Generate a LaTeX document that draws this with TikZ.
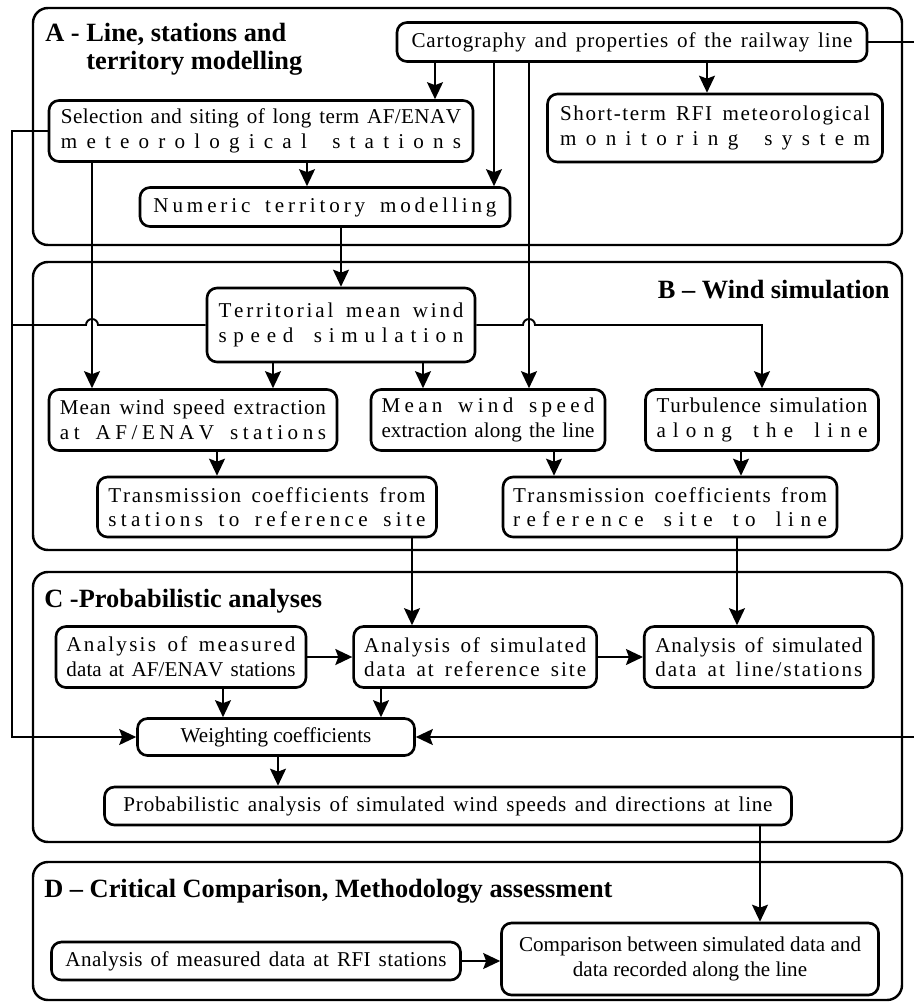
\documentclass[tikz,border=0pt]{standalone}
\usepackage{fontspec}
\setmainfont{Liberation Serif}
\usetikzlibrary{positioning, arrows.meta, calc}

% spread the letters of one line over the whole text width
\ExplSyntaxOn
\NewDocumentCommand\spread{m}{\hbox to \hsize{\str_map_inline:nn{#1}{##1\hfil}\unskip}}
\ExplSyntaxOff

\begin{document}
\begin{tikzpicture}[
    x=0.2mm, y=-0.2mm,
    panel/.style={draw, line width=1.4pt, rounded corners=3mm},
    heading/.style={font=\fontsize{15}{16.5}\selectfont\bfseries, inner sep=0pt, align=left},
    box/.style={
        rectangle,
        draw,
        fill=white,
        line width=1.5pt,
        rounded corners=2mm,
        inner sep=0pt,
        align=center,
        font=\fontsize{12}{14}\selectfont
    },
    flow/.style={-{Stealth[length=3.4mm, width=3.2mm, inset=0.6mm]}, line width=1.1pt},
    link/.style={line width=1.1pt}
]
    \useasboundingbox (0,0) rectangle (913,1003);

    % Sections
    \draw[panel] (33,8) rectangle (902,245);
    \draw[panel] (33,262) rectangle (902,550);
    \draw[panel] (33,572) rectangle (902,842);
    \draw[panel] (33,862) rectangle (902,1000);

    \node[heading, anchor=base west] (headA) at (45,70) {A - Line, stations and\\\phantom{A - }territory modelling};
    \node[heading, anchor=base east] (headB) at (890,298) {B – Wind simulation};
    \node[heading, anchor=base west] (headC) at (44,607) {C -Probabilistic analyses};
    \node[heading, anchor=base west] (headD) at (44,897) {D – Critical Comparison, Methodology assessment};

    % A - Line, stations and territory
    \node[box, minimum width=94mm, minimum height=7.8mm, text width=88.2mm] (cart) at (632,42)
        {\spread{Cartography and properties of the railway line}};
    \node[box, minimum width=67mm, minimum height=13.6mm, text width=62mm] (short) at (715,128)
        {\spread{Short-term RFI meteorological}\\\spread{monitoring system}};
    \node[box, minimum width=84.8mm, minimum height=12.2mm, text width=80mm] (select) at (261,131)
        {\spread{Selection and siting of long term AF/ENAV}\\\spread{meteorological stations}};
    \node[box, minimum width=74mm, minimum height=7.8mm, text width=68.6mm] (numeric) at (325,207)
        {\spread{Numeric territory modelling}};

    % B - Wind simulation
    \node[box, minimum width=53.6mm, minimum height=14.8mm, text width=49mm] (territ) at (341,325)
        {\spread{Territorial mean wind}\\\spread{speed simulation}};
    \node[box, minimum width=57.6mm, minimum height=12.2mm, text width=53.2mm] (extrAF) at (193,420)
        {\spread{Mean wind speed extraction}\\\spread{at AF/ENAV stations}};
    \node[box, minimum width=46.8mm, minimum height=12.2mm, text width=42.6mm] (extrLine) at (488,420)
        {\spread{Mean wind speed}\\\spread{extraction along the line}};
    \node[box, minimum width=46.6mm, minimum height=12.2mm, text width=42.2mm] (turb) at (762,420)
        {\spread{Turbulence simulation}\\\spread{along the line}};
    \node[box, minimum width=67.8mm, minimum height=12mm, text width=63.4mm] (trans1) at (267,507)
        {\spread{Transmission coefficients from}\\\spread{stations to reference site}};
    \node[box, minimum width=66.8mm, minimum height=12mm, text width=62.8mm] (trans2) at (670,507)
        {\spread{Transmission coefficients from}\\\spread{reference site to line}};

    % C - Probabilistic analyses
    \node[box, minimum width=50mm, minimum height=12.2mm, text width=45.8mm] (measAF) at (181,657)
        {\spread{Analysis of measured}\\\spread{data at AF/ENAV stations}};
    \node[box, minimum width=48.6mm, minimum height=12.2mm, text width=44.4mm, right=9mm of measAF] (simRef)
        {\spread{Analysis of simulated}\\\spread{data at reference site}};
    \node[box, minimum width=45.8mm, minimum height=12.2mm, text width=41.4mm, right=9mm of simRef] (simLine)
        {\spread{Analysis of simulated}\\\spread{data at line/stations}};
    \node[box, minimum width=55.4mm, minimum height=7.4mm] (weight) at (276,737) {Weighting coefficients};
    \node[box, minimum width=137.4mm, minimum height=7.6mm, text width=129.8mm] (prob) at (448,806)
        {\spread{Probabilistic analysis of simulated wind speeds and directions at line}};

    % D - Critical comparison
    \node[box, minimum width=81.8mm, minimum height=7.6mm, text width=76.2mm] (measRFI) at (256,961)
        {\spread{Analysis of measured data at RFI stations}};
    \node[box, minimum width=75.4mm, minimum height=14.4mm] (compare) at (690,959)
        {Comparison between simulated data and\\data recorded along the line};

    \coordinate (lbus) at (12,0);
    \coordinate (rbus) at (925,0);

    % Connections from the line
    \draw[flow] (cart.south -| 435,0) -- (select.north -| 435,0);
    \draw[flow] (cart.south -| 494,0) -- (numeric.north -| 494,0);
    \draw[flow] (cart.south -| 529,0) -- (extrLine.north -| 529,0);
    \draw[flow] (cart.south -| 707,0) -- (short.north -| 707,0);
    \draw[flow] (cart.east) -- (cart.east -| rbus) -- (weight.east -| rbus) -- (weight.east);

    % Stations
    \draw[flow] (select.west) -- (select.west -| lbus) -- (weight.west -| lbus) -- (weight.west);
    \draw[flow] (select.south -| 92,0) -- (extrAF.north -| 92,0);
    \draw[flow] (select.south -| 307,0) -- (numeric.north -| 307,0);
    \draw[flow] (numeric.south -| 341,0) -- (territ.north -| 341,0);

    % Wind simulation
    \draw[link] (territ.west) -- ($(territ.west -| 92,0)+(6,0)$) arc[start angle=0, end angle=180, radius=1.2mm]
        -- (territ.west -| lbus);
    \draw[flow] (territ.east) -- ($(territ.east -| 529,0)+(-6,0)$) arc[start angle=180, end angle=0, radius=1.2mm]
        -- (territ.east -| turb.north) -- (turb.north);
    \draw[flow] (territ.south -| 273,0) -- (extrAF.north -| 273,0);
    \draw[flow] (territ.south -| 423,0) -- (extrLine.north -| 423,0);
    \draw[flow] (extrAF.south -| 217,0) -- (trans1.north -| 217,0);
    \draw[flow] (extrLine.south -| 554,0) -- (trans2.north -| 554,0);
    \draw[flow] (turb.south -| 741,0) -- (trans2.north -| 741,0);

    % Probabilistic analyses
    \draw[flow] (trans1.south -| 412,0) -- (simRef.north -| 412,0);
    \draw[flow] (trans2.south -| 737,0) -- (simLine.north -| 737,0);
    \draw[flow] (measAF) -- (simRef);
    \draw[flow] (simRef) -- (simLine);
    \draw[flow] (measAF.south -| 223,0) -- (weight.north -| 223,0);
    \draw[flow] (simRef.south -| 381,0) -- (weight.north -| 381,0);
    \draw[flow] (weight.south -| 278,0) -- (prob.north -| 278,0);

    % Comparison
    \draw[flow] (prob.south -| 760,0) -- (compare.north -| 760,0);
    \draw[flow] (measRFI) -- (compare.west |- measRFI);
\end{tikzpicture}
\end{document}
